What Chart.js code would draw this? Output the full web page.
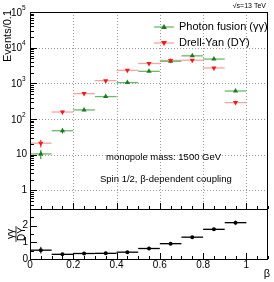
<!DOCTYPE html>
<html>
<head>
<meta charset="utf-8">
<script src="https://cdn.jsdelivr.net/npm/chart.js@4/dist/chart.umd.min.js"></script>
<style>
  body { margin: 0; background: #fff; }
  #wrap { position: relative; width: 274px; height: 282px; }
  #wrap canvas { position: absolute; left: 0; top: 0; }
</style>
</head>
<body>
<div id="wrap">
  <canvas id="ratio" width="274" height="282"></canvas>
  <canvas id="main" width="274" height="282"></canvas>
</div>
<script>
// bin centres in beta
const binCentres = [0.05, 0.15, 0.25, 0.35, 0.45, 0.55, 0.65, 0.75, 0.85, 0.95];
const binHalfWidth = 0.05;

// photon fusion (gamma gamma) events per 0.1
const photonFusion = [10.5, 47, 180, 425, 1050, 2170, 4150, 5900, 4800, 610];
const photonFusionErr = [3, 8, 15, 25, 40, 60, 80, 95, 85, 30];

// Drell-Yan events per 0.1
const drellYan = [21, 157, 515, 1190, 2320, 3600, 4400, 4450, 2700, 288];
const drellYanErr = [5, 15, 28, 40, 55, 70, 75, 75, 60, 20];

// ratio gamma gamma / DY
const ratio = [0.53, 0.28, 0.33, 0.34, 0.41, 0.63, 0.92, 1.31, 1.78, 2.18];
const ratioErr = [0.2, 0.05, 0.04, 0.03, 0.03, 0.03, 0.04, 0.05, 0.07, 0.12];

const xTickLabels = ['0', '0.2', '0.4', '0.6', '0.8', '1'];
const ratioTickLabels = ['0', '1', '2'];
const logDecades = [0, 1, 2, 3, 4, 5];

const FONT = '"Liberation Sans", Arial, sans-serif';
const GREEN = '#1f7a1f';
const GREEN_LIGHT = '#6cb86c';
const RED = '#ee1c1c';
const RED_LIGHT = '#f7a3a3';

function toPoints(ys) {
    return binCentres.map((x, i) => ({ x: x, y: ys[i] }));
}

// draws horizontal bin width and vertical error bars
function drawErrors(ctx, xs, ys, values, errs, color, lineColor) {
    values.forEach((v, i) => {
        const x0 = xs.getPixelForValue(binCentres[i] - binHalfWidth);
        const x1 = xs.getPixelForValue(binCentres[i] + binHalfWidth);
        const xc = xs.getPixelForValue(binCentres[i]);
        const yc = ys.getPixelForValue(v);
        ctx.strokeStyle = lineColor;
        ctx.lineWidth = 1.3;
        ctx.beginPath();
        ctx.moveTo(x0, yc);
        ctx.lineTo(x1, yc);
        ctx.stroke();
        ctx.strokeStyle = color;
        ctx.lineWidth = 1;
        ctx.beginPath();
        ctx.moveTo(xc, ys.getPixelForValue(v + errs[i]));
        ctx.lineTo(xc, ys.getPixelForValue(Math.max(v - errs[i], 0.31)));
        ctx.stroke();
    });
}

function drawXTicks(ctx, xs, yBottom) {
    ctx.strokeStyle = '#000';
    ctx.lineWidth = 1;
    ctx.beginPath();
    for (let i = 0; i <= 22; i++) {
        const v = i * 0.05;
        const px = Math.round(xs.getPixelForValue(v)) + 0.5;
        const len = (i % 4 === 0) ? 6 : 3;
        ctx.moveTo(px, yBottom);
        ctx.lineTo(px, yBottom - len);
    }
    ctx.stroke();
}

const mainPlugin = {
    id: 'mainDecor',
    beforeDatasetsDraw(chart) {
        const { ctx, chartArea: a, scales: { x, y } } = chart;
        ctx.save();
        // dotted grid
        ctx.strokeStyle = '#9a9a9a';
        ctx.lineWidth = 1;
        ctx.setLineDash([1, 2]);
        ctx.beginPath();
        [0.2, 0.4, 0.6, 0.8, 1.0].forEach(v => {
            const px = Math.round(x.getPixelForValue(v)) + 0.5;
            ctx.moveTo(px, a.top);
            ctx.lineTo(px, a.bottom);
        });
        logDecades.slice(0, 5).forEach(d => {
            const py = Math.round(y.getPixelForValue(Math.pow(10, d))) + 0.5;
            ctx.moveTo(a.left, py);
            ctx.lineTo(a.right, py);
        });
        ctx.stroke();
        ctx.setLineDash([]);
        drawErrors(ctx, x, y, drellYan, drellYanErr, RED, RED_LIGHT);
        drawErrors(ctx, x, y, photonFusion, photonFusionErr, GREEN, GREEN_LIGHT);
        ctx.restore();
    },
    afterDraw(chart) {
        const { ctx, chartArea: a, scales: { x, y } } = chart;
        ctx.save();
        // frame
        ctx.strokeStyle = '#000';
        ctx.lineWidth = 1;
        ctx.strokeRect(Math.round(a.left) + 0.5, Math.round(a.top) + 0.5,
            Math.round(a.right - a.left) - 1, Math.round(a.bottom - a.top));
        // log ticks on y
        ctx.beginPath();
        for (let d = -1; d < 5; d++) {
            for (let m = 1; m <= 9; m++) {
                const v = m * Math.pow(10, d);
                if (v < y.min || v > y.max) continue;
                const py = Math.round(y.getPixelForValue(v)) + 0.5;
                const len = m === 1 ? 7 : 4;
                ctx.moveTo(a.left, py);
                ctx.lineTo(a.left + len, py);
            }
        }
        ctx.stroke();
        drawXTicks(ctx, x, a.bottom);
        // y labels
        ctx.fillStyle = '#000';
        ctx.textBaseline = 'middle';
        logDecades.forEach(d => {
            const py = y.getPixelForValue(Math.pow(10, d));
            if (d === 0) {
                ctx.font = '10px ' + FONT;
                ctx.textAlign = 'right';
                ctx.fillText('1', a.left - 3, py);
            } else if (d === 1) {
                ctx.font = '10px ' + FONT;
                ctx.textAlign = 'right';
                ctx.fillText('10', a.left - 3, py);
            } else {
                ctx.font = '6.5px ' + FONT;
                ctx.textAlign = 'left';
                ctx.fillText(String(d), a.left - 8, py - 4);
                ctx.font = '10px ' + FONT;
                ctx.textAlign = 'right';
                ctx.fillText('10', a.left - 8, py + 1);
            }
        });
        // axis title
        ctx.save();
        ctx.translate(8, a.top - 2);
        ctx.rotate(-Math.PI / 2);
        ctx.font = '11px ' + FONT;
        ctx.textAlign = 'right';
        ctx.fillText('Events/0.1', 0, 0);
        ctx.restore();
        // sqrt(s) label
        ctx.font = '7px ' + FONT;
        ctx.textAlign = 'right';
        ctx.fillText('\u221As=13 TeV', 266, 6);
        // legend
        const legend = [
            { text: 'Photon fusion (\u03B3\u03B3)', color: GREEN, light: GREEN_LIGHT, up: true, y: 27 },
            { text: 'Drell-Yan (DY)', color: RED, light: RED_LIGHT, up: false, y: 43 }
        ];
        legend.forEach(it => {
            ctx.strokeStyle = it.light;
            ctx.lineWidth = 1.3;
            ctx.beginPath();
            ctx.moveTo(154, it.y);
            ctx.lineTo(174, it.y);
            ctx.stroke();
            ctx.fillStyle = it.color;
            ctx.beginPath();
            if (it.up) {
                ctx.moveTo(164, it.y - 3);
                ctx.lineTo(167, it.y + 2);
                ctx.lineTo(161, it.y + 2);
            } else {
                ctx.moveTo(164, it.y + 3);
                ctx.lineTo(167, it.y - 2);
                ctx.lineTo(161, it.y - 2);
            }
            ctx.closePath();
            ctx.fill();
            ctx.fillStyle = '#000';
            ctx.font = '11px ' + FONT;
            ctx.textAlign = 'left';
            ctx.fillText(it.text, 179, it.y);
        });
        // annotations
        ctx.font = '9.5px ' + FONT;
        ctx.textAlign = 'left';
        ctx.fillText('monopole mass: 1500 GeV', 106, 157);
        ctx.fillText('Spin 1/2, \u03B2-dependent coupling', 100, 179);
        ctx.restore();
    }
};

const ratioPlugin = {
    id: 'ratioDecor',
    beforeDatasetsDraw(chart) {
        const { ctx, scales: { x, y } } = chart;
        ctx.save();
        drawErrors(ctx, x, y, ratio, ratioErr, '#000', '#000');
        ctx.restore();
    },
    afterDraw(chart) {
        const { ctx, chartArea: a, scales: { x, y } } = chart;
        ctx.save();
        ctx.strokeStyle = '#000';
        ctx.lineWidth = 1;
        ctx.strokeRect(Math.round(a.left) + 0.5, Math.round(a.top) + 0.5,
            Math.round(a.right - a.left) - 1, Math.round(a.bottom - a.top));
        // y ticks
        ctx.beginPath();
        for (let i = 0; i <= 6; i++) {
            const v = i * 0.5;
            const py = Math.round(y.getPixelForValue(v)) + 0.5;
            const len = (i % 2 === 0) ? 7 : 4;
            ctx.moveTo(a.left, py);
            ctx.lineTo(a.left + len, py);
        }
        ctx.stroke();
        drawXTicks(ctx, x, a.bottom);
        ctx.fillStyle = '#000';
        ctx.font = '10px ' + FONT;
        ctx.textAlign = 'right';
        ctx.textBaseline = 'middle';
        ratioTickLabels.forEach((t, i) => {
            ctx.fillText(t, a.left - 2, y.getPixelForValue(i));
        });
        ctx.textAlign = 'center';
        ctx.textBaseline = 'top';
        xTickLabels.forEach((t, i) => {
            ctx.fillText(t, x.getPixelForValue(i * 0.2), a.bottom + 1);
        });
        ctx.font = '11px ' + FONT;
        ctx.textAlign = 'right';
        ctx.fillText('\u03B2', 270, 268);
        // y title as fraction
        ctx.save();
        ctx.translate(16, 234);
        ctx.rotate(-Math.PI / 2);
        ctx.font = '10px ' + FONT;
        ctx.textAlign = 'center';
        ctx.textBaseline = 'alphabetic';
        ctx.fillText('\u03B3\u03B3', 0, -2);
        ctx.textBaseline = 'top';
        ctx.fillText('DY', 0, 1);
        ctx.lineWidth = 0.8;
        ctx.beginPath();
        ctx.moveTo(-8, 0);
        ctx.lineTo(8, 0);
        ctx.stroke();
        ctx.restore();
        ctx.restore();
    }
};

new Chart(document.getElementById('main'), {
    type: 'scatter',
    data: {
        datasets: [
            {
                label: 'Drell-Yan (DY)',
                data: toPoints(drellYan),
                pointStyle: 'triangle',
                rotation: 180,
                radius: 3,
                backgroundColor: RED,
                borderColor: RED,
                borderWidth: 0
            },
            {
                label: 'Photon fusion (\u03B3\u03B3)',
                data: toPoints(photonFusion),
                pointStyle: 'triangle',
                radius: 3,
                backgroundColor: GREEN,
                borderColor: GREEN,
                borderWidth: 0
            }
        ]
    },
    options: {
        responsive: false,
        animation: false,
        layout: { padding: { left: 30, right: 6, top: 12, bottom: 73 } },
        plugins: { legend: { display: false }, tooltip: { enabled: false } },
        scales: {
            x: { type: 'linear', min: 0, max: 1.1, display: false },
            y: { type: 'logarithmic', min: 0.3, max: 1e5, display: false }
        }
    },
    plugins: [mainPlugin]
});

new Chart(document.getElementById('ratio'), {
    type: 'scatter',
    data: {
        datasets: [{
            label: '\u03B3\u03B3/DY',
            data: toPoints(ratio),
            pointStyle: 'circle',
            radius: 2,
            backgroundColor: '#000',
            borderWidth: 0
        }]
    },
    options: {
        responsive: false,
        animation: false,
        layout: { padding: { left: 30, right: 6, top: 209, bottom: 23 } },
        plugins: { legend: { display: false }, tooltip: { enabled: false } },
        scales: {
            x: { type: 'linear', min: 0, max: 1.1, display: false },
            y: { type: 'linear', min: 0, max: 3, display: false }
        }
    },
    plugins: [ratioPlugin]
});
</script>
</body>
</html>
